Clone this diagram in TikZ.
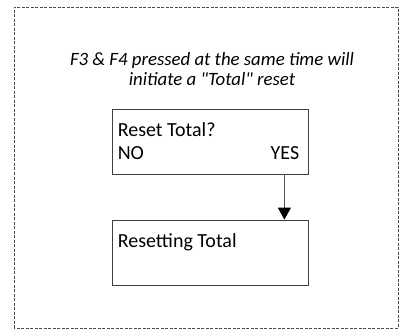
\documentclass[tikz,border=0pt]{standalone}
\usepackage{fontspec}
\setmainfont{Carlito}
\usetikzlibrary{arrows.meta, positioning, calc}

\begin{document}
\begin{tikzpicture}[x=1pt, y=1pt, node distance=111pt, on grid, auto,
        screen/.style={rectangle, draw=black!75, line width=0.8pt, minimum width=196pt, minimum height=65pt, inner sep=0pt},
        lcdtext/.style={inner sep=0pt, font=\fontsize{20}{23}\selectfont},
        flow/.style={draw=black!65, line width=0.9pt, -{Triangle[length=12pt, width=13pt, color=black]}}]

                        \useasboundingbox (0,0) rectangle (400,333);
                        \draw[black!70, line width=0.7pt, dash pattern=on 3pt off 1.5pt] (14,5) rectangle (398,326);

                        % Screens
                        \node (resetq) [screen] at (210,191.5) {};
                        \node (resetting) [screen, below=of resetq] {};
                        \node (hint) [align=center, inner sep=0pt, font=\itshape\fontsize{18.8}{20}\selectfont, above=72pt of resetq, xshift=2pt]
                                {F3 \& F4 pressed at the same time will\\ initiate a \textquotedbl Total\textquotedbl{} reset};

                        % Screen texts
                        \node (qtext) [lcdtext, anchor=base west] at ($(resetq.north west)+(6,-28)$) {Reset Total?};
                        \node (notext) [lcdtext, anchor=base west] at ($(resetq.north west)+(6,-51)$) {NO};
                        \node (yestext) [lcdtext, anchor=base east] at ($(resetq.north east)+(-9,-51)$) {YES};
                        \node (rtext) [lcdtext, anchor=base west] at ($(resetting.north west)+(6,-28)$) {Resetting Total};

                        % YES leads to the reset
                        \coordinate (yes) at ([xshift=-24pt]resetq.south east);
                        \draw[flow] (yes) -- (yes |- resetting.north);

\end{tikzpicture}
\end{document}
